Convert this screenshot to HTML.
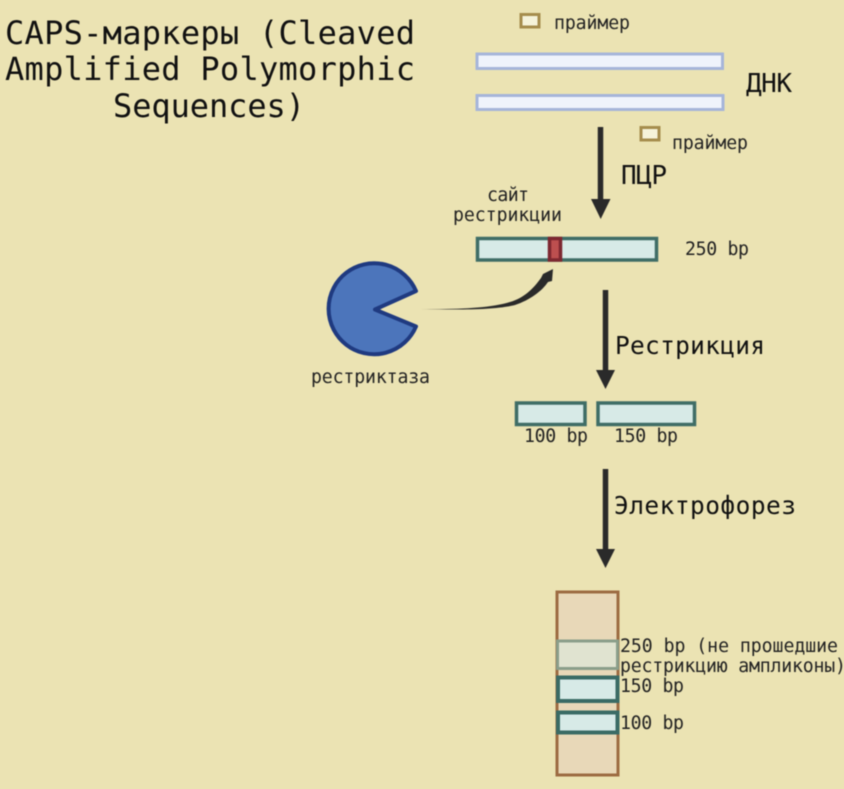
<!DOCTYPE html>
<html>
<head>
<meta charset="utf-8">
<style>
html,body{margin:0;padding:0;background:#ebe3b3;width:844px;height:789px;overflow:hidden}
svg{display:block;filter:blur(0.45px)}
text{font-family:"DejaVu Sans Mono","Liberation Mono",monospace;fill:#111}
.s{fill:#222;font-size:18.2px}
</style>
</head>
<body>
<svg width="844" height="789" viewBox="0 0 844 789" xmlns="http://www.w3.org/2000/svg">
<rect width="844" height="789" fill="#ebe3b3"/>

<!-- title -->
<text x="5" y="44" font-size="32" textLength="410" lengthAdjust="spacing">CAPS-маркеры (Cleaved</text>
<text x="5" y="80" font-size="32" textLength="410" lengthAdjust="spacing">Amplified Polymorphic</text>
<text x="113" y="117" font-size="32" textLength="192" lengthAdjust="spacing">Sequences)</text>

<!-- primers -->
<rect x="521" y="14.500" width="18" height="12.500" fill="#f5f3da" stroke="#a58d4d" stroke-width="3"/>
<text x="554" y="29" class="s" textLength="76">праймер</text>
<rect x="641" y="127.500" width="18" height="12.500" fill="#f5f3da" stroke="#a58d4d" stroke-width="3"/>
<text x="672" y="149" class="s" textLength="76">праймер</text>

<!-- DNA -->
<rect x="477" y="54" width="245.500" height="14.500" fill="#eff3fb" stroke="#a6b5d9" stroke-width="3"/>
<rect x="477" y="95.500" width="246" height="14" fill="#eff3fb" stroke="#a6b5d9" stroke-width="3"/>
<text x="746" y="92" font-size="26" textLength="46">ДНК</text>

<!-- PCR arrow -->
<line x1="600.500" y1="127" x2="600.500" y2="202" stroke="#2a2a2a" stroke-width="5.500"/>
<polygon points="591,199 610.500,199 600.700,219" fill="#2a2a2a"/>
<text x="621" y="184" font-size="26" textLength="46">ПЦР</text>

<text x="487" y="201" class="s" textLength="42">сайт</text>
<text x="453" y="221" class="s" textLength="109">рестрикции</text>

<!-- 250 bp amplicon -->
<rect x="477.500" y="238.500" width="179" height="21.500" fill="#d7eae7" stroke="#3f6d66" stroke-width="3.500"/>
<rect x="549.500" y="238.500" width="11" height="21.500" fill="#bd4f4f" stroke="#7d2730" stroke-width="3.500"/>
<text x="685" y="255" class="s" textLength="64">250 bp</text>

<!-- enzyme -->
<path d="M416 291 A45.500 45.500 0 1 0 416 326.500 L375 309.500 Z" fill="#4c75bb" stroke="#1f3a80" stroke-width="4" stroke-linejoin="round"/>
<text x="311" y="383" class="s" textLength="119">рестриктаза</text>

<!-- curved arrow -->
<path d="M420 309 C460 309.500 490 308 510 302 C524 298 533 289 541 278 L543 274 L553 269 L552 281 L548 282 C542 291 530 300 515 305 C495 310 460 310 420 309 Z" fill="#2a2a2a"/>

<!-- restriction arrow -->
<line x1="605.500" y1="290" x2="605.500" y2="372" stroke="#2a2a2a" stroke-width="5.500"/>
<polygon points="596,370 615,370 605.500,389" fill="#2a2a2a"/>
<text x="615" y="354" font-size="24.500" textLength="150">Рестрикция</text>

<!-- fragments -->
<rect x="516.500" y="403" width="68.500" height="21.500" fill="#d7eae7" stroke="#3f6d66" stroke-width="3.500"/>
<rect x="598" y="403" width="96.500" height="21.500" fill="#d7eae7" stroke="#3f6d66" stroke-width="3.500"/>
<text x="524" y="442" class="s" textLength="64">100 bp</text>
<text x="614" y="442" class="s" textLength="64">150 bp</text>

<!-- electrophoresis arrow -->
<line x1="605.500" y1="469" x2="605.500" y2="552" stroke="#2a2a2a" stroke-width="5.500"/>
<polygon points="596,549 615,549 605.500,568" fill="#2a2a2a"/>
<text x="614" y="514" font-size="24.500" textLength="182">Электрофорез</text>

<!-- gel -->
<rect x="557" y="592" width="61" height="183" fill="#e8d8b8" stroke="#9c6b42" stroke-width="3"/>
<rect x="557.500" y="641" width="60" height="27.500" fill="#e0e3d0" stroke="#8a9e8a" stroke-width="3"/>
<rect x="558" y="677.500" width="59.500" height="23.500" fill="#d7eae7" stroke="#3a6b65" stroke-width="4"/>
<rect x="558" y="712.500" width="59.500" height="20" fill="#d7eae7" stroke="#3a6b65" stroke-width="4"/>

<text x="620" y="652" class="s" textLength="218">250 bp (не прошедшие</text>
<text x="620" y="672" class="s" textLength="226">рестрикцию ампликоны)</text>
<text x="620" y="692" class="s" textLength="64">150 bp</text>
<text x="620" y="729" class="s" textLength="64">100 bp</text>
</svg>
</body>
</html>
